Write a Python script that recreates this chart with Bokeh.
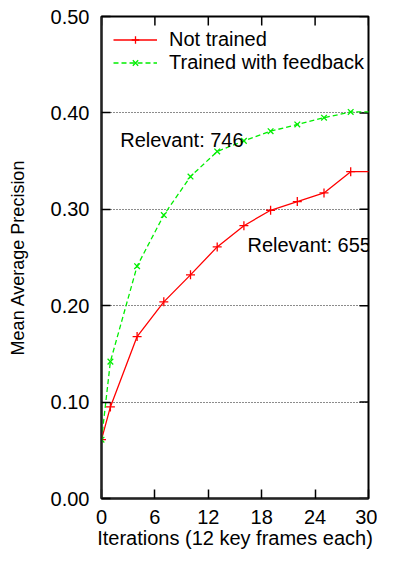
import math
from bokeh.plotting import figure
from bokeh.models import Range1d, FixedTicker, PrintfTickFormatter, Label, Legend, LegendItem
from bokeh.embed import file_html
from bokeh.resources import INLINE

# ---- data ----
iterations = [0, 1, 4, 7, 10, 13, 16, 19, 22, 25, 28, 31]
not_trained = [0.061, 0.095, 0.168, 0.204, 0.232, 0.261, 0.283, 0.299, 0.308, 0.317, 0.339, 0.339]
trained_feedback = [0.061, 0.142, 0.241, 0.294, 0.334, 0.360, 0.371, 0.381, 0.388, 0.395, 0.401, 0.401]
x_ticks = [0, 6, 12, 18, 24, 30]
y_ticks = [0.0, 0.1, 0.2, 0.3, 0.4, 0.5]
grid_ticks = [0.1, 0.2, 0.3, 0.4]
series_names = ["Not trained", "Trained with feedback"]
annotations = ["Relevant: 746", "Relevant: 655"]

FONT = "Liberation Sans"
FS = "20px"
X_MAX, Y_MAX = 30, 0.5

p = figure(width=377, height=553, output_backend="svg", toolbar_location=None,
           x_range=Range1d(0, X_MAX), y_range=Range1d(0, Y_MAX),
           min_border_left=101, min_border_right=9, min_border_top=16, min_border_bottom=55,
           background_fill_color="white", border_fill_color="white")

p.outline_line_color = "black"
p.outline_line_width = 2

# axes
for ax in (p.xaxis[0], p.yaxis[0]):
    ax.major_tick_in = 9
    ax.major_tick_out = 0
    ax.minor_tick_line_color = None
    ax.axis_line_color = "#222222"
    ax.axis_line_width = 2
    ax.major_tick_line_color = "black"
    ax.major_tick_line_width = 1.5
    ax.major_label_text_font = FONT
    ax.major_label_text_font_size = FS
    ax.major_label_text_color = "black"
    ax.axis_label_text_font = FONT
    ax.axis_label_text_font_style = "normal"
    ax.axis_label_text_color = "black"

p.xaxis.ticker = FixedTicker(ticks=x_ticks)
p.yaxis.ticker = FixedTicker(ticks=y_ticks)
p.yaxis.formatter = PrintfTickFormatter(format="%.2f")
p.xaxis.major_label_standoff = 11
p.yaxis.major_label_standoff = 12
p.xaxis.axis_label = "Iterations (12 key frames each)"
p.xaxis.axis_label_text_font_size = FS
p.xaxis.axis_label_standoff = 0
p.yaxis.axis_label = "Mean Average Precision"
p.yaxis.axis_label_text_font_size = "18px"
p.yaxis.axis_label_standoff = 20

# mirror ticks on right and top borders (half of each dash is clipped by the frame)
p.scatter([X_MAX] * len(y_ticks), y_ticks, marker="dash", size=18,
          line_color="black", line_width=1.5)
p.scatter(x_ticks, [Y_MAX] * len(x_ticks), marker="dash", size=18, angle=math.pi / 2,
          line_color="black", line_width=1.5)

# grid
p.xgrid.grid_line_color = None
p.ygrid.ticker = FixedTicker(ticks=grid_ticks)
p.ygrid.grid_line_color = "black"
p.ygrid.grid_line_dash = "1 2"
p.ygrid.grid_line_width = 1
p.ygrid.grid_line_alpha = 0.9

# series
r1 = p.line(iterations, not_trained, line_color="#ff0000", line_width=1.3)
m1 = p.scatter(iterations, not_trained, marker="cross", size=9,
               line_color="#ff0000", line_width=1.3)
r2 = p.line(iterations, trained_feedback, line_color="#00ee00", line_width=1.3,
            line_dash="5 3")
m2 = p.scatter(iterations, trained_feedback, marker="x", size=8,
               line_color="#00ee00", line_width=1.3)

legend = Legend(items=[LegendItem(label=series_names[0], renderers=[r1, m1]),
                       LegendItem(label=series_names[1], renderers=[r2, m2])],
                location="top_left", background_fill_alpha=0, border_line_alpha=0,
                glyph_width=44, glyph_height=19, label_height=19, label_standoff=12,
                padding=0, margin=12, spacing=-3, label_text_line_height=1.0,
                label_text_font=FONT, label_text_font_size=FS, label_text_color="black")
p.add_layout(legend)

# annotations
p.add_layout(Label(x=2.1, y=0.372, text=annotations[0], text_font=FONT,
                   text_font_size=FS, text_baseline="alphabetic", text_color="black"))
p.add_layout(Label(x=16.4, y=0.2627, text=annotations[1], text_font=FONT,
                   text_font_size=FS, text_baseline="alphabetic", text_color="black"))

open("out.html", "w").write(file_html(p, INLINE))
